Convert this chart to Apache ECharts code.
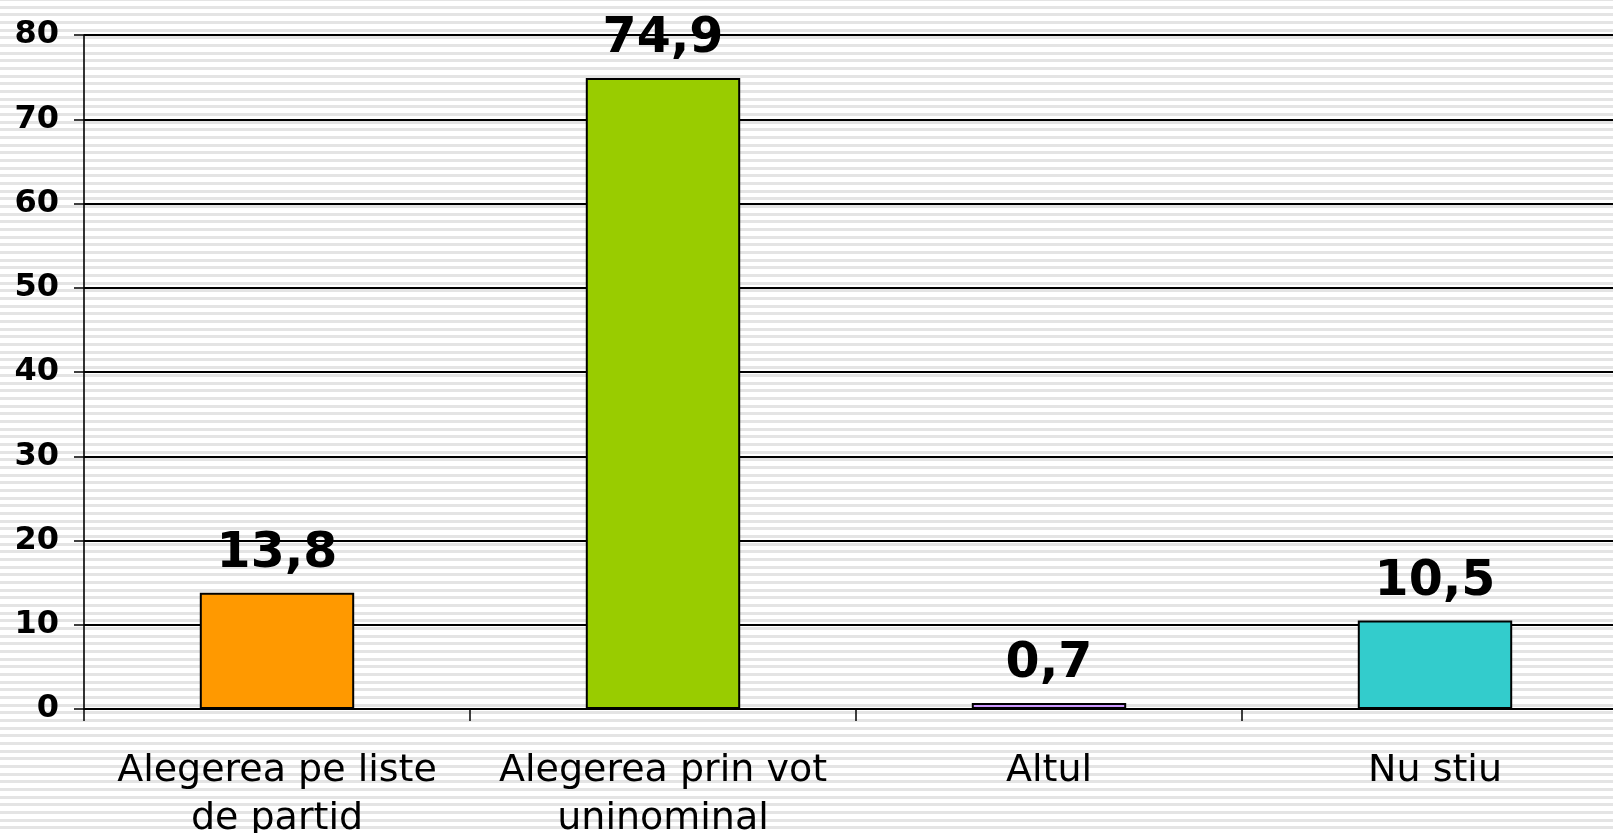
<!DOCTYPE html>
<html>
<head>
<meta charset="utf-8">
<script src="https://cdn.jsdelivr.net/npm/echarts@6/dist/echarts.min.js"></script>
<style>
  html, body { margin: 0; padding: 0; }
  body {
    width: 1613px; height: 833px; overflow: hidden;
    background: repeating-linear-gradient(to bottom,
      #e4e4e4 0px, #e4e4e4 1px, #ffffff 1px, #ffffff 5.67px, #e4e4e4 5.67px, #e4e4e4 7.67px);
  }
  #chart { width: 1613px; height: 833px; }
</style>
</head>
<body>
<div id="chart"></div>
<script>
const categories = ['Alegerea pe liste de partid', 'Alegerea prin vot uninominal', 'Altul', 'Nu stiu'];
const values = [13.8, 74.9, 0.7, 10.5];
const barColors = ['#FF9900', '#99CC00', '#CC99FF', '#33CCCC'];
const yTicks = [0, 10, 20, 30, 40, 50, 60, 70, 80];

function wrapWords(text, maxChars) {
  const words = text.split(' ');
  const lines = [];
  let cur = '';
  words.forEach(w => {
    const test = cur ? cur + ' ' + w : w;
    if (test.length > maxChars && cur) { lines.push(cur); cur = w; }
    else cur = test;
  });
  if (cur) lines.push(cur);
  return lines.join('\n');
}

const chart = echarts.init(document.getElementById('chart'), null, { renderer: 'canvas' });
const font = 'DejaVu Sans, Verdana, sans-serif';

chart.setOption({
  backgroundColor: 'transparent',
  animation: false,
  grid: { left: 84, top: 35, bottom: 124, right: -15, containLabel: false, outerBoundsMode: 'none' },
  xAxis: {
    type: 'category',
    data: categories,
    boundaryGap: true,
    axisLine: { show: true, lineStyle: { color: '#000', width: 1.6 } },
    axisTick: { show: true, length: 12, alignWithLabel: false, lineStyle: { color: '#000', width: 1.5 } },
    axisLabel: {
      interval: 0,
      margin: 38,
      color: '#000',
      fontFamily: font,
      fontSize: 38,
      lineHeight: 48,
      formatter: v => wrapWords(v, 17)
    },
    splitLine: { show: false }
  },
  yAxis: {
    type: 'value',
    min: yTicks[0],
    max: yTicks[yTicks.length - 1],
    interval: 10,
    axisLine: { show: true, lineStyle: { color: '#000', width: 1.6 } },
    axisTick: { show: true, length: 10, lineStyle: { color: '#000', width: 1.5 } },
    axisLabel: {
      margin: 25,
      color: '#000',
      fontFamily: font,
      fontSize: 32,
      fontWeight: 'bold'
    },
    splitLine: { show: true, lineStyle: { color: '#000', width: 1.8 } }
  },
  series: [{
    type: 'bar',
    barWidth: '40%',
    data: values.map((v, i) => ({
      value: v,
      itemStyle: { color: barColors[i], borderColor: '#000', borderWidth: 2 }
    })),
    label: {
      show: true,
      position: 'top',
      distance: 14,
      color: '#000',
      fontFamily: font,
      fontSize: 49,
      fontWeight: 'bold',
      formatter: p => String(p.value).replace('.', ',')
    }
  }]
});
</script>
</body>
</html>
